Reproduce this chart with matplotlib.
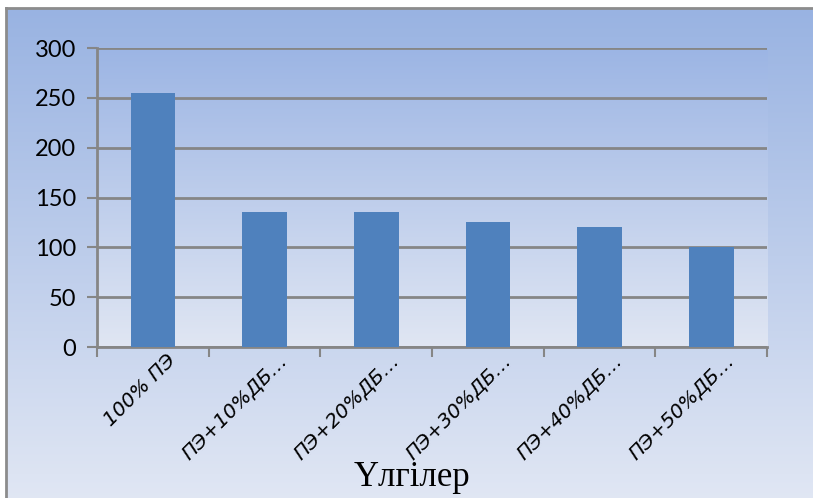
import numpy as np
import matplotlib
matplotlib.use("Agg")
import matplotlib.pyplot as plt
from matplotlib.colors import LinearSegmentedColormap

# data
categories = ["100% ПЭ", "ПЭ+10%ДБ…", "ПЭ+20%ДБ…", "ПЭ+30%ДБ…", "ПЭ+40%ДБ…", "ПЭ+50%ДБ…"]
values = [255, 135, 135, 125, 120, 100]
yticks = [0, 50, 100, 150, 200, 250, 300]
xlabel = "Үлгілер"

W, H = 813, 498
fig = plt.figure(figsize=(W / 100, H / 100), dpi=100)
fig.patch.set_facecolor("white")

# outer chart area with vertical gradient
bg = fig.add_axes([6 / W, -0.01, 1.02 - 6 / W, 1.01 - 8 / H])
outer_cmap = LinearSegmentedColormap.from_list("outer", ["#e1e7f4", "#99b3e2"])
bg.imshow(np.linspace(0, 1, 256).reshape(-1, 1), aspect="auto", cmap=outer_cmap,
          origin="lower", extent=[0, 1, 0, 1])
bg.set_xticks([])
bg.set_yticks([])
for side in ["right", "bottom"]:
    bg.spines[side].set_visible(False)
for side in ["top", "left"]:
    bg.spines[side].set_color("#8c8c8c")
    bg.spines[side].set_linewidth(2)

# plot area
ax = fig.add_axes([97 / W, 1 - 347 / H, (767 - 97) / W, (347 - 48) / H])
inner_cmap = LinearSegmentedColormap.from_list("inner", ["#e0e6f3", "#9cb5e4"])
ax.imshow(np.linspace(0, 1, 256).reshape(-1, 1), aspect="auto", cmap=inner_cmap,
          origin="lower", extent=[-0.5, len(categories) - 0.5, 0, 300], zorder=0)

x = np.arange(len(categories))
ax.bar(x, values, width=0.4, color="#4f81bd", zorder=3)

ax.set_xlim(-0.5, len(categories) - 0.5)
ax.set_ylim(0, 300)
ax.set_yticks(yticks)
ax.set_yticklabels([str(v) for v in yticks], fontsize=17, family=["Lato", "DejaVu Sans"])
ax.yaxis.grid(True, color="#868686", linewidth=2, zorder=1)
ax.set_axisbelow(True)

ax.set_xticks(np.arange(len(categories) + 1) - 0.5, minor=False)
ax.set_xticklabels([])
ax.set_xticks(x + 0.12, minor=True)
ax.set_xticklabels(categories, minor=True, rotation=45, ha="right",
                   rotation_mode="anchor", fontsize=14.5, style="italic",
                   family=["DejaVu Sans"])
ax.tick_params(axis="x", which="minor", length=0, pad=3)
ax.tick_params(axis="x", which="major", length=7, color="#868686", width=1.5)
ax.tick_params(axis="y", length=7, color="#868686", width=1.5, pad=8)

for side in ["top", "right"]:
    ax.spines[side].set_visible(False)
ax.spines["left"].set_color("#868686")
ax.spines["left"].set_linewidth(2)
ax.spines["bottom"].set_color("#868686")
ax.spines["bottom"].set_linewidth(2)

fig.text(412 / W, 1 - 478 / H, xlabel, ha="center", va="center", fontsize=25,
         family=["Liberation Serif", "DejaVu Serif"])

fig.savefig("out.png", dpi=100)
